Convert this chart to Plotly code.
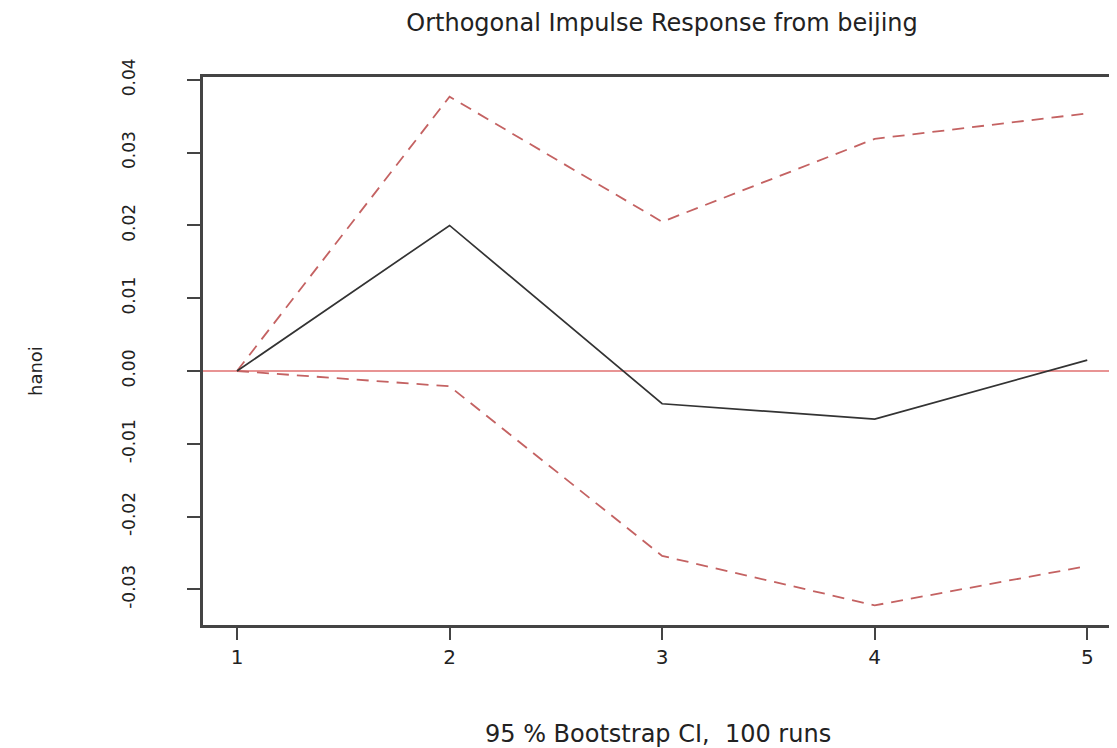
import plotly.graph_objects as go

steps = [1, 2, 3, 4, 5]
irf = [0.0, 0.0200, -0.0045, -0.0066, 0.0015]
upper = [0.0, 0.0377, 0.0205, 0.0319, 0.0354]
lower = [0.0, -0.0021, -0.0254, -0.0322, -0.0268]
y_ticks = [-0.03, -0.02, -0.01, 0.00, 0.01, 0.02, 0.03, 0.04]
y_tick_labels = ["-0.03", "-0.02", "-0.01", "0.00", "0.01", "0.02", "0.03", "0.04"]

fig = go.Figure()
fig.add_hline(y=0, line=dict(color="#e07070", width=1.5), layer="below")
fig.add_trace(go.Scatter(x=steps, y=upper, mode="lines",
                         line=dict(color="#c46262", width=1.8, dash="12px,8px")))
fig.add_trace(go.Scatter(x=steps, y=lower, mode="lines",
                         line=dict(color="#c46262", width=1.8, dash="12px,8px")))
fig.add_trace(go.Scatter(x=steps, y=irf, mode="lines",
                         line=dict(color="#333333", width=1.7)))

font = "DejaVu Sans, Arial, sans-serif"
# page has an 8px body margin: figure coords = page coords - 8
W, H = 1109, 740
L, T = 195, 69
PW, PH = 914, 548
B = H - T - PH
fig.update_layout(
    width=W, height=H,
    margin=dict(l=L, r=W - L - PW, t=T, b=B, autoexpand=False),
    plot_bgcolor="white", paper_bgcolor="white",
    showlegend=False,
    font=dict(family=font, color="#222222"),
    title=dict(text="Orthogonal Impulse Response from beijing",
               x=(662 - 8) / W, xanchor="center", y=1 - (23 - 8) / H, yanchor="middle",
               font=dict(size=24, family=font, color="#222222")),
    annotations=[
        dict(text="95 % Bootstrap CI,  100 runs", xref="paper", yref="paper",
             x=(658 - 203) / PW, y=(625 - 734) / PH, xanchor="center", yanchor="middle",
             showarrow=False, font=dict(size=24, family=font, color="#222222")),
        dict(text="hanoi", xref="paper", yref="paper", textangle=-90,
             x=(35 - 203) / PW, y=(625 - 371) / PH, xanchor="center", yanchor="middle",
             showarrow=False, font=dict(size=18, family=font, color="#222222")),
    ],
)
fig.update_xaxes(range=[0.84, 5.14], tickvals=steps, ticktext=[str(s) for s in steps],
                 showgrid=False, zeroline=False, showline=True, mirror=True,
                 linecolor="#444444", linewidth=2.5, ticks="outside", ticklen=12,
                 tickwidth=2, tickcolor="#444444", ticklabelstandoff=0,
                 automargin=False,
                 tickfont=dict(size=20, family=font, color="#222222"))
fig.update_yaxes(range=[-0.0349, 0.0404], tickvals=y_ticks, ticktext=y_tick_labels,
                 tickangle=-90, showgrid=False, zeroline=False, showline=True,
                 mirror=False, linecolor="#444444", linewidth=2.5, ticks="outside",
                 ticklen=13, tickwidth=2, tickcolor="#444444", ticklabelstandoff=45,
                 automargin=False,
                 tickfont=dict(size=17, family=font, color="#222222"))

fig.write_html("out.html")
